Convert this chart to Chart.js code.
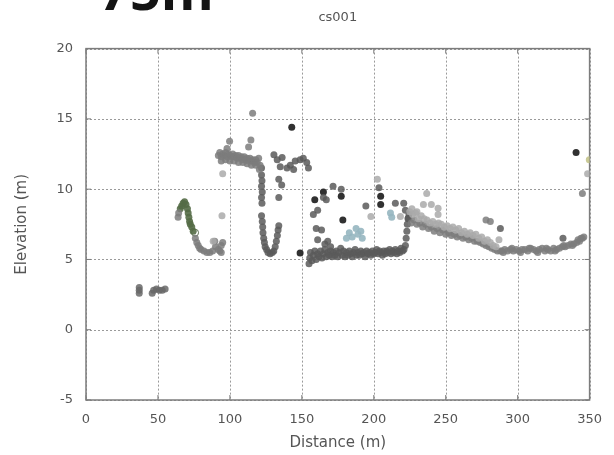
<!DOCTYPE html>
<html>
<head>
<meta charset="utf-8">
<script src="https://cdn.jsdelivr.net/npm/chart.js@4/dist/chart.umd.min.js"></script>
<style>
  html, body { margin: 0; padding: 0; background: #fff; }
  #wrap { width: 614px; height: 455px; position: relative; }
</style>
</head>
<body>
<div id="wrap"><canvas id="c" width="614" height="455"></canvas></div>
<script>
// Cross-section cs001: surveyed points, distance (m) vs elevation (m)
const xTicks = [0, 50, 100, 150, 200, 250, 300, 350];
const yTicks = [-5, 0, 5, 10, 15, 20];

// isolated low returns near the left end
const lowPts = [[37,3.0],[37,2.8],[37,2.6],[46,2.6],[47,2.8],[49,2.9],[51,2.8],[53,2.8],[55,2.9]];

// vegetated bank
const greenPts = [[65.5,8.6],[66.5,8.8],[67.5,9.0],[68.5,9.1],[69.5,8.9],[70.5,8.6],[71,8.3],[71.5,8.0],
  [72,7.7],[72.5,7.5],[73.5,7.3],[74.5,7.0]];
const whitePts = [[75.8,6.9]];

// main mid-grey returns
const midGray = [
  [64.4,8.3],[64,8.0],
  [76,6.5],[77,6.2],[78,6.0],[79,5.8],[80,5.7],[82,5.6],[84,5.5],[86,5.5],[88,5.6],[89.5,6.3],[90,5.9],
  [92,5.7],[93,5.6],[94,6.0],[95,6.2],[94,5.5],
  [92,12.4],[93,12.6],[94,12.3],[95,12.5],[96,12.4],[97,12.6],[98,12.3],[99,12.5],[100,12.4],[101,12.3],
  [102,12.5],[103,12.3],[104,12.4],[105,12.2],[106,12.4],[107,12.2],[108,12.3],[109,12.1],[110,12.3],
  [111,12.1],[112,12.2],[113,12.0],[114,12.2],[115,12.0],[116,12.1],[117,11.9],[118,12.1],[119,11.9],
  [120,12.2],[121,11.7],[120.5,11.4],
  [94,12.0],[97,12.1],[100,12.0],[103,12.0],[106,11.9],[109,11.9],[112,11.8],[115,11.7],[118,11.7],
  [98,12.9],[99.8,13.4],[113,13.0],[114.6,13.5],[115.8,15.4],
  [226,7.6],[228,7.8],[230,7.5],[232,7.6],[234,7.3],[236,7.5],[238,7.2],[240,7.3],[242,7.0],[244,7.2],
  [246,6.9],[248,7.1],[250,6.8],[252,6.9],[254,6.7],[256,6.8],[258,6.6],[260,6.7],[262,6.5],[264,6.6],
  [266,6.4],[268,6.5],[270,6.3],[272,6.3],[274,6.2],[276,6.1],[278,6.0],[280,5.9],[282,5.8],[284,5.7],
  [286,5.6],[288,5.6],[278,7.8],[281,7.7],
  [289,5.6],[291,5.7],[293,5.6],[295,5.7],[297,5.6],[299,5.7],[301,5.6],[303,5.7],[305,5.7],[307,5.6],
  [309,5.8],[311,5.7],[313,5.6],[315,5.7],[317,5.8],[319,5.6],[321,5.7],[323,5.6],[325,5.8],[327,5.7],
  [329,5.8],[331,5.9],[333,5.9],[335,6.0],[337,6.1],[339,6.1],[341,6.2],[343,6.3],[344,6.5],[345,6.5],
  [290,5.5],[296,5.8],[302,5.5],[308,5.8],[314,5.5],[320,5.8],[326,5.6],[332,6.0],[338,6.0],[342,6.4],
  [345,9.7],[346,6.6]
];

// darker grey returns: scarp, channel and terrace floor
const darkGray = [
  [122,11.5],[122,11.0],[122.3,10.6],[122,10.2],[122.5,9.8],[122,9.4],[122.3,9.0],[122,8.1],[122.5,7.7],
  [122.8,7.3],[123,6.9],[123.5,6.5],[124,6.2],[124.5,5.9],[125.5,5.7],[126.5,5.5],[128,5.4],[129.5,5.5],
  [130.5,5.6],[131.5,5.9],[132.3,6.3],[133,6.7],[133.5,7.1],[134,7.4],
  [134,10.7],[136,10.3],[134,9.4],
  [130.6,12.45],[132.9,12.1],[136.3,12.25],[135,11.6],[139.7,11.5],[142,11.7],[144.3,11.4],[145.4,12.0],
  [148.8,12.1],[151,12.2],[153.4,11.9],[154.6,11.5],
  [155,4.7],[155.5,5.1],[156,5.5],[157,4.9],[158,5.3],[159,5.6],[160,5.0],[161,5.4],[162,5.2],[163,5.6],
  [164,5.1],[165,5.4],[166,5.7],[167,5.2],[168,5.5],[169,5.3],[170,5.6],[171,5.2],[172,5.5],[173,5.3],
  [174,5.6],[175,5.2],[176,5.5],[177,5.8],[178,5.3],[179,5.6],[180,5.2],[181,5.5],[182,5.3],[183,5.6],
  [184,5.4],[185,5.2],[186,5.5],[187,5.7],[188,5.3],[189,5.5],[190,5.3],[191,5.6],[192,5.4],[193,5.5],
  [194,5.2],[195,5.6],[196,5.4],[197,5.5],[198,5.3],[199,5.6],[200,5.4],[201,5.5],[202,5.7],[203,5.4],
  [204,5.6],[205,5.5],[206,5.3],[207,5.6],[208,5.4],[209,5.6],[210,5.5],[211,5.7],[212,5.4],[213,5.6],
  [214,5.5],[215,5.7],[216,5.4],[217,5.6],[218,5.5],[219,5.8],[220,5.6],[221,5.7],
  [166,6.1],[168,6.3],[170,5.9],
  [222,6.0],[222.5,6.5],[223,7.0],[223.3,7.5],[223.8,7.9],[224.5,8.2],
  [165,9.4],[158,8.2],[161,8.5],[160,7.2],[163.7,7.1],[161,6.4],[167,9.25],[171.7,10.2],[177.4,10.0],
  [194.5,8.8],[203.6,10.1],[215,9.0],[220.8,9.0],[222,8.5],[224,7.95],[331.5,6.5],[288,7.2]
];

// darkest single returns
const blackPts = [[143,14.4],[148.8,5.45],[165,9.8],[178.5,7.8],[204.8,9.5],[204.8,8.9],[159,9.25],
  [177.4,9.5],[340.6,12.6]];

// pale returns
const lightGray = [
  [88.4,6.3],[94.5,8.1],[95,11.1],[198,8.06],[202.5,10.7],[218.5,8.06],
  [225,8.4],[227,8.2],[229,8.3],[231,7.9],[233,8.1],[235,7.9],[237,7.8],[239,7.6],[241,7.7],[243,7.5],
  [245,7.6],[247,7.5],[249,7.3],[251,7.4],[253,7.2],[255,7.3],[257,7.1],[259,7.2],[261,6.9],[263,7.0],
  [265,6.8],[267,6.9],[269,6.7],[271,6.8],[273,6.5],[275,6.6],[277,6.3],[279,6.4],[281,6.2],[283,6.0],
  [285,5.9],[287,6.4],
  [226.5,8.6],[230,8.4],[236.8,9.7],[234.5,8.9],[240,8.9],[244.7,8.65],[244.7,8.2],[348.6,11.1]
];

// blue-tinted returns
const bluePts = [[181,6.5],[183,6.9],[185,6.6],[187.7,7.2],[189,6.8],[191,7.0],[192,6.5],[211.6,8.3],[212.5,8.0]];
// olive return at the right edge
const olivePts = [[349.8,12.1]];

const toXY = arr => arr.map(([x, y]) => ({ x, y }));

function series(arr, color, border) {
  return {
    data: toXY(arr),
    backgroundColor: color,
    borderColor: border || color,
    borderWidth: border ? 1 : 0,
    pointRadius: 3.5,
    pointHoverRadius: 3.5,
    showLine: false
  };
}

// dotted grid, solid frame and inward tick marks on all four sides
const framePlugin = {
  id: 'frame',
  beforeDatasetsDraw(chart) {
    const { ctx, chartArea: a, scales: { x, y } } = chart;
    ctx.save();
    ctx.strokeStyle = '#9a9a9a';
    ctx.lineWidth = 1;
    ctx.setLineDash([2, 2]);
    ctx.beginPath();
    x.ticks.forEach(t => {
      const p = Math.round(x.getPixelForValue(t.value)) + 0.5;
      ctx.moveTo(p, a.top); ctx.lineTo(p, a.bottom);
    });
    y.ticks.forEach(t => {
      const p = Math.round(y.getPixelForValue(t.value)) + 0.5;
      ctx.moveTo(a.left, p); ctx.lineTo(a.right, p);
    });
    ctx.stroke();
    ctx.setLineDash([]);

    ctx.strokeStyle = '#7c7c7c';
    ctx.lineWidth = 1.5;
    ctx.strokeRect(a.left, a.top, a.right - a.left, a.bottom - a.top);
    ctx.lineWidth = 1;
    ctx.beginPath();
    x.ticks.forEach(t => {
      const p = x.getPixelForValue(t.value);
      ctx.moveTo(p, a.bottom); ctx.lineTo(p, a.bottom - 5);
      ctx.moveTo(p, a.top); ctx.lineTo(p, a.top + 5);
    });
    y.ticks.forEach(t => {
      const p = y.getPixelForValue(t.value);
      ctx.moveTo(a.left, p); ctx.lineTo(a.left + 5, p);
      ctx.moveTo(a.right, p); ctx.lineTo(a.right - 5, p);
    });
    ctx.stroke();
    ctx.restore();
  },
  afterDraw(chart) {
    const ctx = chart.ctx;
    ctx.save();
    ctx.fillStyle = '#141414';
    ctx.font = 'bold 54px "Open Sans"';
    ctx.textBaseline = 'alphabetic';
    ctx.textAlign = 'left';
    ctx.fillText('75m', 99, 10);
    ctx.restore();
  }
};

const tickFont = { family: '"DejaVu Sans"', size: 13 };
const titleFont = { family: '"DejaVu Sans"', size: 15 };

new Chart(document.getElementById('c'), {
  type: 'scatter',
  data: {
    datasets: [
      series(lightGray, 'rgba(170,170,170,0.85)'),
      series(bluePts, 'rgba(150,182,192,0.9)'),
      series(midGray, 'rgba(125,125,125,0.85)'),
      series(lowPts, 'rgba(105,105,105,0.85)'),
      series(darkGray, 'rgba(90,90,90,0.85)'),
      series(greenPts, 'rgba(84,108,70,0.9)'),
      series(whitePts, '#ffffff', 'rgba(80,100,70,0.9)'),
      series(blackPts, 'rgba(38,38,38,0.95)'),
      series(olivePts, 'rgba(196,196,140,0.9)')
    ]
  },
  options: {
    responsive: false,
    animation: false,
    devicePixelRatio: 1,
    layout: { padding: { top: 0, right: 17, bottom: 0, left: 0 } },
    plugins: {
      legend: { display: false },
      tooltip: { enabled: false },
      title: {
        display: true,
        fullSize: false,
        text: 'cs001',
        color: '#555',
        font: { family: '"DejaVu Sans"', size: 13, weight: 'normal' },
        padding: { top: 10, bottom: 23 }
      }
    },
    scales: {
      x: {
        type: 'linear',
        min: xTicks[0],
        max: xTicks[xTicks.length - 1],
        afterBuildTicks: s => { s.ticks = xTicks.map(v => ({ value: v })); },
        afterFit: s => { s.height = 55; },
        ticks: { color: '#555', font: tickFont, padding: 12, maxRotation: 0 },
        grid: { display: false, drawTicks: false },
        border: { display: false },
        title: { display: true, text: 'Distance (m)', color: '#555', font: titleFont, padding: { top: 0, bottom: 3 } }
      },
      y: {
        type: 'linear',
        min: yTicks[0],
        max: yTicks[yTicks.length - 1],
        afterBuildTicks: s => { s.ticks = yTicks.map(v => ({ value: v })); },
        afterFit: s => { s.width = 86; },
        ticks: { color: '#555', font: tickFont, padding: 13 },
        grid: { display: false, drawTicks: false },
        border: { display: false },
        title: { display: true, text: 'Elevation (m)', color: '#555', font: titleFont, padding: { top: 13, bottom: 0 } }
      }
    }
  },
  plugins: [framePlugin]
});
</script>
</body>
</html>
